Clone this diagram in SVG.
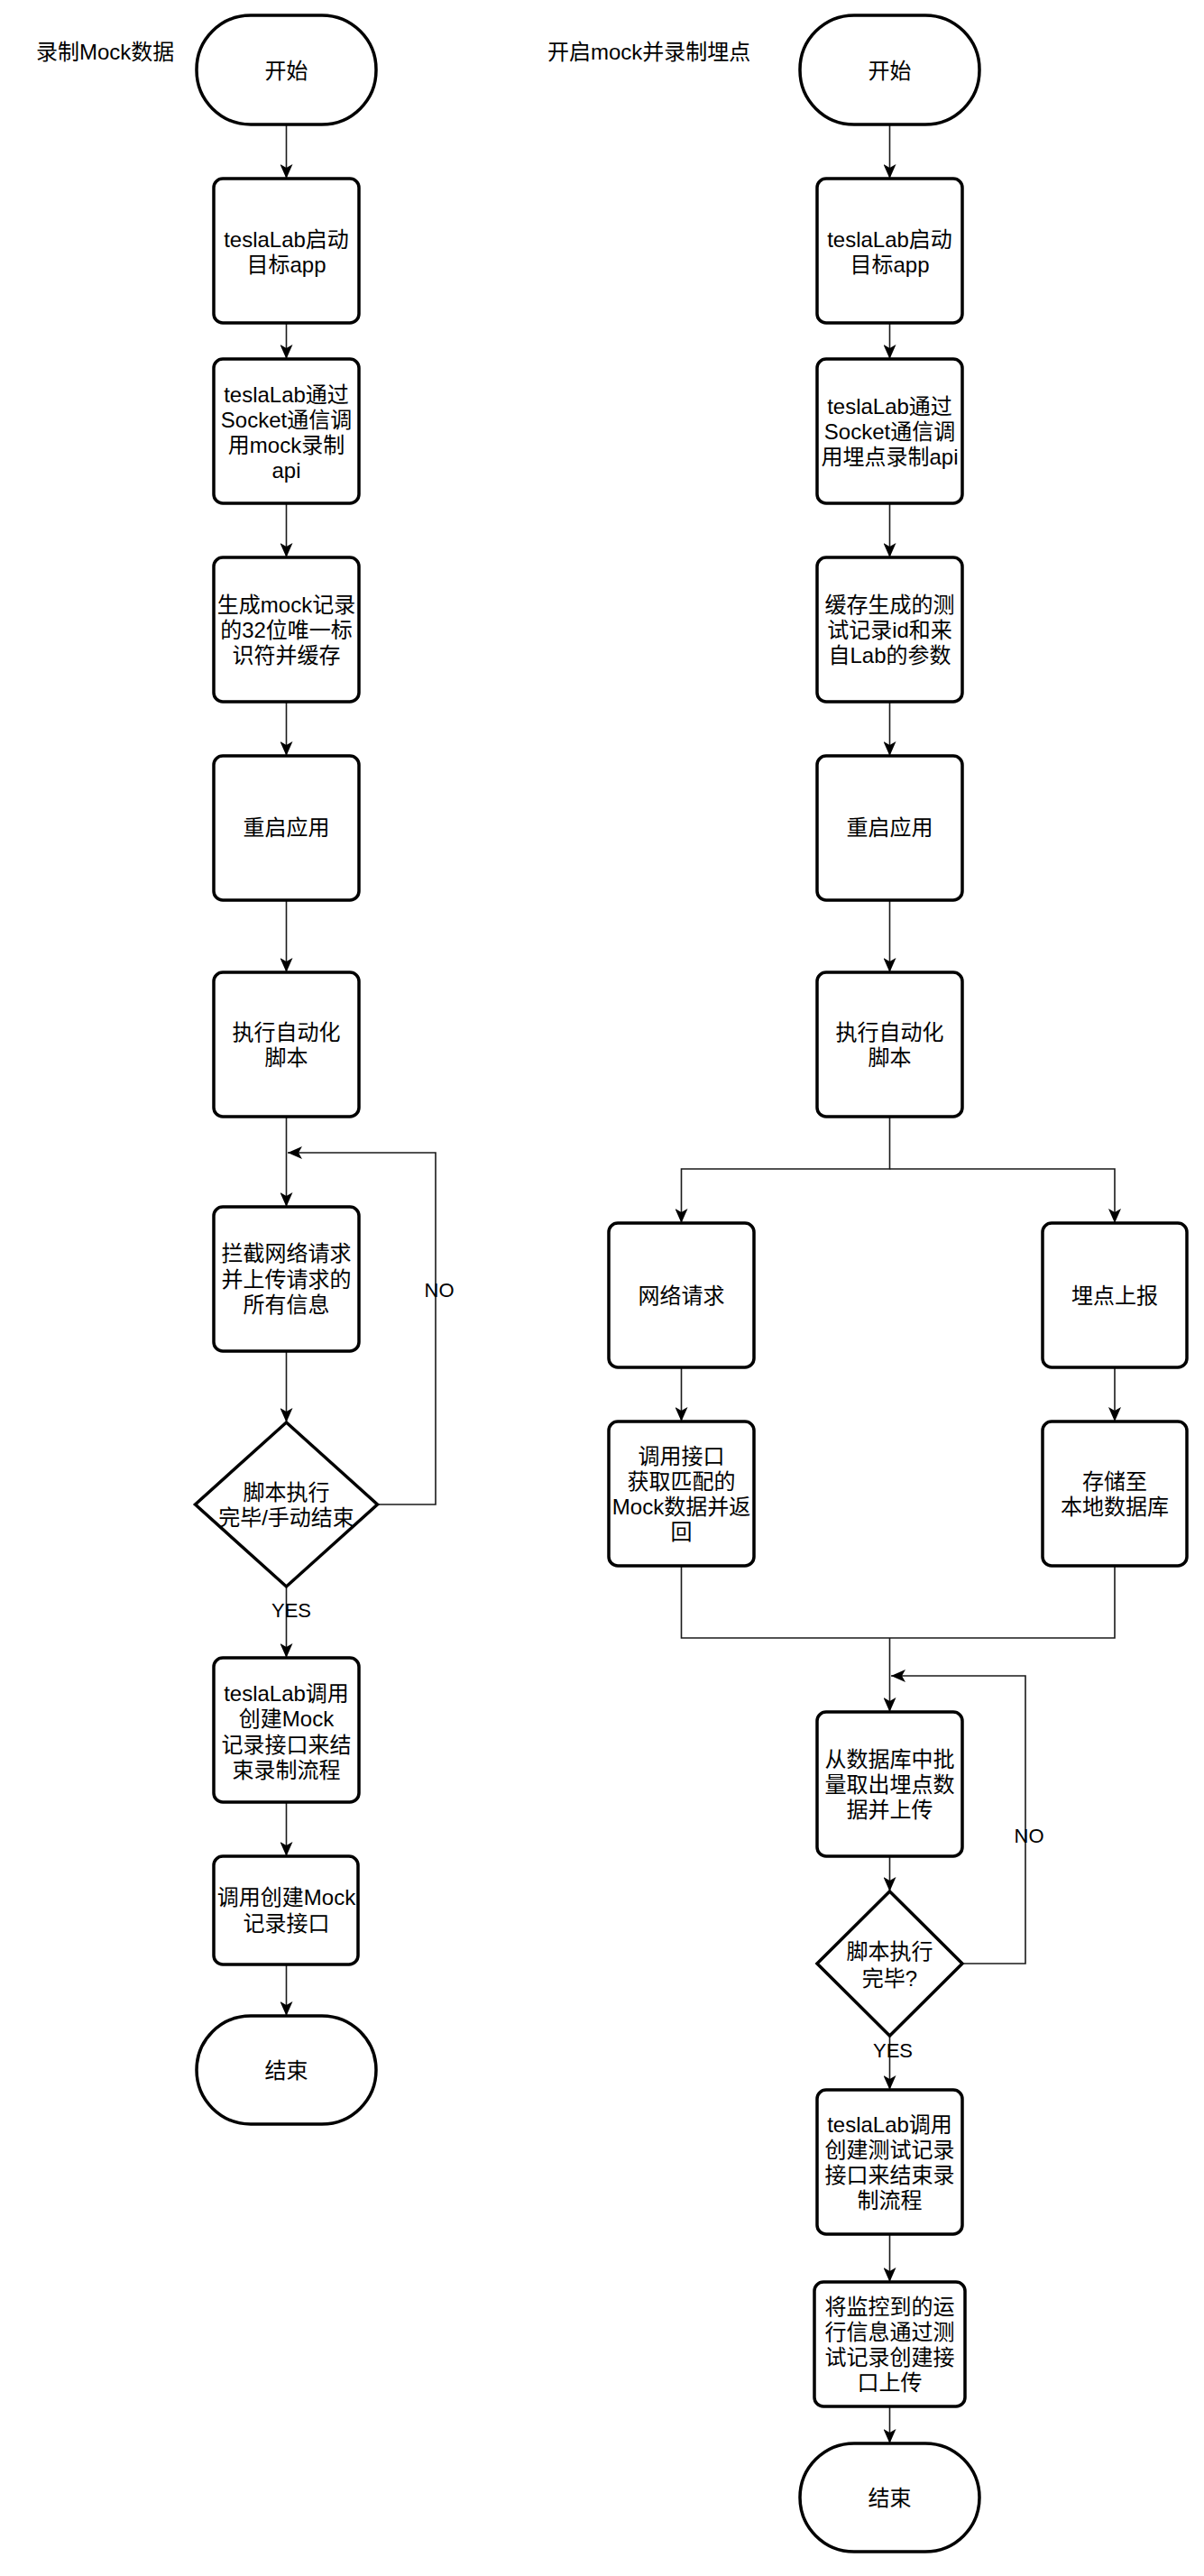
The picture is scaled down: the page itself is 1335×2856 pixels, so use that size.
<svg xmlns="http://www.w3.org/2000/svg" width="1335" height="2856" viewBox="0 0 1335 2856">
<defs>
<style>
.n{fill:#fff;stroke:#000;stroke-width:3.5}
.t{font-family:"Liberation Sans","Noto Sans CJK SC",sans-serif;font-size:24px;fill:#000;text-anchor:middle}
.h{font-family:"Liberation Sans","Noto Sans CJK SC",sans-serif;font-size:24px;fill:#000}
.l{font-family:"Liberation Sans","Noto Sans CJK SC",sans-serif;font-size:22px;fill:#000;text-anchor:middle}
.c{fill:none;stroke:#1a1a1a;stroke-width:1.6}
</style>
<marker id="a" viewBox="0 0 16 14" refX="16" refY="7" markerWidth="16" markerHeight="14" markerUnits="userSpaceOnUse" orient="auto">
<path d="M0,0 L16,7 L0,14 L4,7 Z" fill="#000"/>
</marker>
</defs>
<rect width="1335" height="2856" fill="#fff"/>

<text class="h" x="40" y="66">录制Mock数据</text>
<text class="h" x="607" y="66">开启mock并录制埋点</text>

<g id="connectors">
<line class="c" x1="317.5" y1="138" x2="317.5" y2="198" marker-end="url(#a)"/>
<line class="c" x1="317.5" y1="358" x2="317.5" y2="398" marker-end="url(#a)"/>
<line class="c" x1="317.5" y1="558" x2="317.5" y2="618" marker-end="url(#a)"/>
<line class="c" x1="317.5" y1="778" x2="317.5" y2="838" marker-end="url(#a)"/>
<line class="c" x1="317.5" y1="998" x2="317.5" y2="1078" marker-end="url(#a)"/>
<line class="c" x1="317.5" y1="1238" x2="317.5" y2="1338" marker-end="url(#a)"/>
<line class="c" x1="317.5" y1="1498" x2="317.5" y2="1577" marker-end="url(#a)"/>
<polyline class="c" points="418.5,1668 483,1668 483,1278 319,1278" marker-end="url(#a)"/>
<line class="c" x1="317.5" y1="1759" x2="317.5" y2="1838" marker-end="url(#a)"/>
<line class="c" x1="317.5" y1="1998" x2="317.5" y2="2058" marker-end="url(#a)"/>
<line class="c" x1="317.5" y1="2178" x2="317.5" y2="2235" marker-end="url(#a)"/>

<line class="c" x1="986.5" y1="138" x2="986.5" y2="198" marker-end="url(#a)"/>
<line class="c" x1="986.5" y1="358" x2="986.5" y2="398" marker-end="url(#a)"/>
<line class="c" x1="986.5" y1="558" x2="986.5" y2="618" marker-end="url(#a)"/>
<line class="c" x1="986.5" y1="778" x2="986.5" y2="838" marker-end="url(#a)"/>
<line class="c" x1="986.5" y1="998" x2="986.5" y2="1078" marker-end="url(#a)"/>
<polyline class="c" points="986.5,1238 986.5,1296 755.5,1296 755.5,1356" marker-end="url(#a)"/>
<polyline class="c" points="986.5,1296 1236,1296 1236,1356" marker-end="url(#a)"/>
<line class="c" x1="755.5" y1="1516" x2="755.5" y2="1576" marker-end="url(#a)"/>
<line class="c" x1="1236" y1="1516" x2="1236" y2="1576" marker-end="url(#a)"/>
<polyline class="c" points="755.5,1736 755.5,1816 1236,1816 1236,1736"/>
<line class="c" x1="986.5" y1="1816" x2="986.5" y2="1898" marker-end="url(#a)"/>
<line class="c" x1="986.5" y1="2058" x2="986.5" y2="2097" marker-end="url(#a)"/>
<polyline class="c" points="1067,2177 1137,2177 1137,1858 988,1858" marker-end="url(#a)"/>
<line class="c" x1="986.5" y1="2257" x2="986.5" y2="2317" marker-end="url(#a)"/>
<line class="c" x1="986.5" y1="2477" x2="986.5" y2="2530" marker-end="url(#a)"/>
<line class="c" x1="986.5" y1="2668" x2="986.5" y2="2709" marker-end="url(#a)"/>

<text class="l" x="487" y="1438">NO</text>
<text class="l" x="323" y="1793">YES</text>
<text class="l" x="1141" y="2043">NO</text>
<text class="l" x="990" y="2281">YES</text>
</g>

<g id="L-start"><rect class="n" x="218" y="17" width="199" height="121" rx="60" ry="60"/><text class="t" x="317.5" y="86.5">开始</text></g>
<g id="L-1"><rect class="n" x="237" y="198" width="161" height="160" rx="10"/><text class="t" x="317.5" y="273.5">teslaLab启动</text><text class="t" x="317.5" y="301.5">目标app</text></g>
<g id="L-2"><rect class="n" x="237" y="398" width="161" height="160" rx="10"/><text class="t" x="317.5" y="445.5">teslaLab通过</text><text class="t" x="317.5" y="473.5">Socket通信调</text><text class="t" x="317.5" y="501.5">用mock录制</text><text class="t" x="317.5" y="530">api</text></g>
<g id="L-3"><rect class="n" x="237" y="618" width="161" height="160" rx="10"/><text class="t" x="317.5" y="678.5">生成mock记录</text><text class="t" x="317.5" y="706.5">的32位唯一标</text><text class="t" x="317.5" y="735">识符并缓存</text></g>
<g id="L-4"><rect class="n" x="237" y="838" width="161" height="160" rx="10"/><text class="t" x="317.5" y="926">重启应用</text></g>
<g id="L-5"><rect class="n" x="237" y="1078" width="161" height="160" rx="10"/><text class="t" x="317.5" y="1152.5">执行自动化</text><text class="t" x="317.5" y="1180.5">脚本</text></g>
<g id="L-6"><rect class="n" x="237" y="1338" width="161" height="160" rx="10"/><text class="t" x="317.5" y="1398">拦截网络请求</text><text class="t" x="317.5" y="1426.5">并上传请求的</text><text class="t" x="317.5" y="1455">所有信息</text></g>
<g id="L-d"><polygon class="n" points="317.5,1577 418.5,1668 317.5,1759 216.5,1668"/><text class="t" x="317.5" y="1662.5">脚本执行</text><text class="t" x="317.5" y="1690.5">完毕/手动结束</text></g>
<g id="L-7"><rect class="n" x="237" y="1838" width="161" height="160" rx="10"/><text class="t" x="317.5" y="1885.5">teslaLab调用</text><text class="t" x="317.5" y="1914">创建Mock</text><text class="t" x="317.5" y="1942.5">记录接口来结</text><text class="t" x="317.5" y="1971">束录制流程</text></g>
<g id="L-8"><rect class="n" x="237" y="2058" width="160" height="120" rx="10"/><text class="t" x="317.5" y="2112">调用创建Mock</text><text class="t" x="317.5" y="2141">记录接口</text></g>
<g id="L-end"><rect class="n" x="218" y="2235" width="199" height="120" rx="60" ry="60"/><text class="t" x="317.5" y="2303.5">结束</text></g>

<g id="R-start"><rect class="n" x="887" y="17" width="199" height="121" rx="60" ry="60"/><text class="t" x="986.5" y="86.5">开始</text></g>
<g id="R-1"><rect class="n" x="906" y="198" width="161" height="160" rx="10"/><text class="t" x="986.5" y="273.5">teslaLab启动</text><text class="t" x="986.5" y="301.5">目标app</text></g>
<g id="R-2"><rect class="n" x="906" y="398" width="161" height="160" rx="10"/><text class="t" x="986.5" y="458.5">teslaLab通过</text><text class="t" x="986.5" y="486.5">Socket通信调</text><text class="t" x="986.5" y="515">用埋点录制api</text></g>
<g id="R-3"><rect class="n" x="906" y="618" width="161" height="160" rx="10"/><text class="t" x="986.5" y="678.5">缓存生成的测</text><text class="t" x="986.5" y="706.5">试记录id和来</text><text class="t" x="986.5" y="735">自Lab的参数</text></g>
<g id="R-4"><rect class="n" x="906" y="838" width="161" height="160" rx="10"/><text class="t" x="986.5" y="926">重启应用</text></g>
<g id="R-5"><rect class="n" x="906" y="1078" width="161" height="160" rx="10"/><text class="t" x="986.5" y="1152.5">执行自动化</text><text class="t" x="986.5" y="1180.5">脚本</text></g>
<g id="R-net"><rect class="n" x="675" y="1356" width="161" height="160" rx="10"/><text class="t" x="755.5" y="1444.5">网络请求</text></g>
<g id="R-track"><rect class="n" x="1156" y="1356" width="160" height="160" rx="10"/><text class="t" x="1236" y="1444.5">埋点上报</text></g>
<g id="R-mock"><rect class="n" x="675" y="1576" width="161" height="160" rx="10"/><text class="t" x="755.5" y="1622.5">调用接口</text><text class="t" x="755.5" y="1650.5">获取匹配的</text><text class="t" x="755.5" y="1678.5">Mock数据并返</text><text class="t" x="755.5" y="1706.5">回</text></g>
<g id="R-store"><rect class="n" x="1156" y="1576" width="160" height="160" rx="10"/><text class="t" x="1236" y="1650.5">存储至</text><text class="t" x="1236" y="1678.5">本地数据库</text></g>
<g id="R-6"><rect class="n" x="906" y="1898" width="161" height="160" rx="10"/><text class="t" x="986.5" y="1958.5">从数据库中批</text><text class="t" x="986.5" y="1986.5">量取出埋点数</text><text class="t" x="986.5" y="2015">据并上传</text></g>
<g id="R-d"><polygon class="n" points="986.5,2097 1067,2177 986.5,2257 906,2177"/><text class="t" x="986.5" y="2171.5">脚本执行</text><text class="t" x="986.5" y="2201.5">完毕?</text></g>
<g id="R-7"><rect class="n" x="906" y="2317" width="161" height="160" rx="10"/><text class="t" x="986.5" y="2363.5">teslaLab调用</text><text class="t" x="986.5" y="2391.5">创建测试记录</text><text class="t" x="986.5" y="2419.5">接口来结束录</text><text class="t" x="986.5" y="2447.5">制流程</text></g>
<g id="R-8"><rect class="n" x="903" y="2530" width="167" height="138" rx="10"/><text class="t" x="986.5" y="2565.5">将监控到的运</text><text class="t" x="986.5" y="2593.5">行信息通过测</text><text class="t" x="986.5" y="2621.5">试记录创建接</text><text class="t" x="986.5" y="2649.5">口上传</text></g>
<g id="R-end"><rect class="n" x="887" y="2709" width="199" height="120" rx="60" ry="60"/><text class="t" x="986.5" y="2777.5">结束</text></g>
</svg>
